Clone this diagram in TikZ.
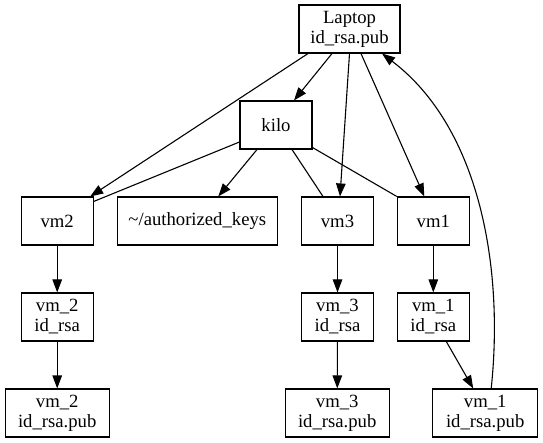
\documentclass[tikz,border=0pt]{standalone}
\usepackage{fontspec}
\setmainfont{Liberation Serif}
\usetikzlibrary{arrows.meta}
\begin{document}
\begin{tikzpicture}[x=1pt,y=-1pt,
  box/.style={draw,line width=1.1pt,rectangle,inner sep=0pt,minimum height=48pt,
    align=center,font=\fontsize{18.67}{20}\selectfont},
  edge/.style={line width=1.1pt},
  arr/.style={edge,-{Triangle[length=13pt,width=9.5pt]}}]
\useasboundingbox (0,0) rectangle (543,443);
\node[box,minimum width=101pt] (laptop) at (349.5,29) {Laptop\\id\_rsa.pub};
\node[box,minimum width=72pt] (kilo) at (276,125) {kilo};
\node[box,minimum width=72pt] (vm2) at (57.2,221) {vm2};
\node[box,minimum width=160pt] (auth) at (197.3,221) {\textasciitilde/authorized\_keys};
\node[box,minimum width=72pt] (vm3) at (337.5,221) {vm3};
\node[box,minimum width=72pt] (vm1) at (433.3,221) {vm1};
\node[box,minimum width=72pt] (vm2id) at (57.2,317) {vm\_2\\id\_rsa};
\node[box,minimum width=72pt] (vm3id) at (337.5,317) {vm\_3\\id\_rsa};
\node[box,minimum width=72pt] (vm1id) at (433.3,317) {vm\_1\\id\_rsa};
\node[box,minimum width=104pt] (vm2pub) at (57.2,413) {vm\_2\\id\_rsa.pub};
\node[box,minimum width=104pt] (vm3pub) at (337.2,413) {vm\_3\\id\_rsa.pub};
\node[box,minimum width=105pt] (vm1pub) at (485.2,413) {vm\_1\\id\_rsa.pub};
% Laptop edges
\draw[arr] ([xshift=-41.5pt]laptop.south) -- ([xshift=33pt]vm2.north);
\draw[arr] ([xshift=-17.5pt]laptop.south) -- ([xshift=18pt]kilo.north);
\draw[arr] ([xshift=0pt]laptop.south) -- ([xshift=2.5pt]vm3.north);
\draw[arr] ([xshift=11.5pt]laptop.south) -- ([xshift=-9pt]vm1.north);
% kilo edges
\draw[edge] ([yshift=-17pt]kilo.west) -- ([yshift=-5pt]vm2.north east);
\draw[arr] ([xshift=-19pt]kilo.south) -- ([xshift=21pt]auth.north);
\draw[edge] ([xshift=16pt]kilo.south) -- ([xshift=-14.5pt]vm3.north);
\draw[edge] ([yshift=2pt]kilo.south east) -- (vm1.north west);
% chains
\draw[arr] (vm2) -- (vm2id);
\draw[arr] (vm2id) -- (vm2pub);
\draw[arr] (vm3) -- (vm3id);
\draw[arr] (vm3id) -- (vm3pub);
\draw[arr] (vm1) -- (vm1id);
\draw[arr] ([xshift=13pt]vm1id.south) -- ([xshift=-12pt]vm1pub.north);
\draw[arr] ([xshift=6pt]vm1pub.north) .. controls (504,268) and (480,128) .. ([xshift=32.5pt]laptop.south);
\end{tikzpicture}
\end{document}
